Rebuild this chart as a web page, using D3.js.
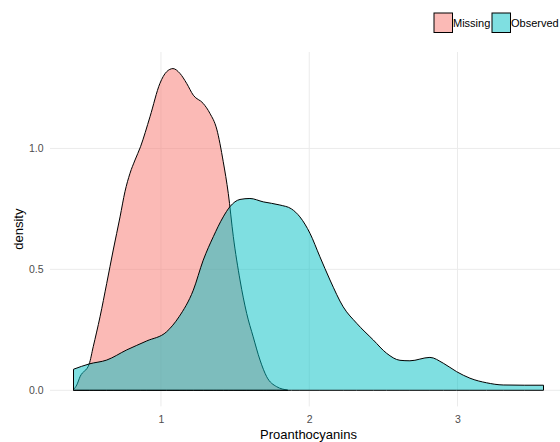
<!DOCTYPE html>
<html>
<head>
<meta charset="utf-8">
<script src="https://cdn.jsdelivr.net/npm/d3@7"></script>
<style>
  body { margin: 0; background: #fff; }
  text { font-family: "Liberation Sans", Arial, sans-serif; }
</style>
</head>
<body>
<script>
// size of the picture
const w = 560;
const h = 442;

// groups
const groups = ["Missing", "Observed"];
const groupColors = ["#F8766D", "#00BFC4"];

// density curve of the Missing group
const missingX = [0.41, 0.432, 0.454, 0.516, 0.543, 0.589, 0.634, 0.678, 0.724, 0.757, 0.791, 0.825, 0.862, 0.926, 0.993, 1.038, 1.081, 1.128, 1.173, 1.218, 1.285, 1.330, 1.376, 1.420, 1.454, 1.488, 1.533, 1.578, 1.622, 1.668, 1.713, 1.780, 1.855];
const missingY = [0.003, 0.022, 0.056, 0.109, 0.180, 0.304, 0.442, 0.580, 0.717, 0.821, 0.897, 0.952, 1.007, 1.131, 1.269, 1.317, 1.330, 1.310, 1.269, 1.220, 1.186, 1.145, 1.080, 0.945, 0.814, 0.635, 0.456, 0.318, 0.221, 0.125, 0.056, 0.015, 0.001];

// density curve of the Observed group
const observedX = [0.41, 0.516, 0.634, 0.769, 0.904, 1.038, 1.122, 1.218, 1.285, 1.353, 1.420, 1.465, 1.533, 1.600, 1.690, 1.802, 1.880, 1.937, 2.005, 2.072, 2.140, 2.229, 2.320, 2.432, 2.522, 2.612, 2.679, 2.814, 2.904, 2.994, 3.084, 3.196, 3.308, 3.45, 3.58];
const observedY = [0.087, 0.109, 0.125, 0.167, 0.204, 0.242, 0.304, 0.414, 0.538, 0.635, 0.717, 0.759, 0.789, 0.793, 0.779, 0.766, 0.750, 0.717, 0.649, 0.552, 0.456, 0.345, 0.277, 0.208, 0.153, 0.124, 0.122, 0.136, 0.112, 0.077, 0.050, 0.031, 0.022, 0.021, 0.021];

// ticks
const xTicks = [1, 2, 3];
const yTicks = [0, 0.5, 1.0];

// panel box
const panel = {left: 50, right: 567, top: 52, bottom: 406.4};

const x = d3.scaleLinear()
  .domain([0.2515, 3.7385])
  .range([panel.left, panel.right]);

const y = d3.scaleLinear()
  .domain([-0.0666, 1.3986])
  .range([panel.bottom, panel.top]);

const svg = d3.select("body")
  .append("svg")
  .attr("width", w)
  .attr("height", h);

//gridlines
svg.append("g")
  .selectAll("line")
  .data(xTicks)
  .enter()
  .append("line")
  .attr("x1", d => x(d)).attr("x2", d => x(d))
  .attr("y1", panel.top).attr("y2", panel.bottom)
  .attr("stroke", "#ebebeb").attr("stroke-width", 1);

svg.append("g")
  .selectAll("line")
  .data(yTicks)
  .enter()
  .append("line")
  .attr("x1", panel.left).attr("x2", panel.right)
  .attr("y1", d => y(d)).attr("y2", d => y(d))
  .attr("stroke", "#ebebeb").attr("stroke-width", 1);

// density areas, Missing first so Observed lies on top
const series = [
  d3.zip(missingX, missingY),
  d3.zip(observedX, observedY)
];

const area = d3.area()
  .x(d => x(d[0]))
  .y0(y(0))
  .y1(d => y(d[1]))
  .curve(d3.curveMonotoneX);

svg.append("g")
  .selectAll("path")
  .data(series)
  .enter()
  .append("path")
  .attr("d", area)
  .attr("fill", (d, i) => groupColors[i])
  .attr("fill-opacity", 0.5)
  .attr("stroke", "#000")
  .attr("stroke-width", 1)
  .attr("stroke-linejoin", "round");

// axes (labels only)
const xAxis = svg.append("g")
  .attr("transform", `translate(0,${panel.bottom})`)
  .call(d3.axisBottom(x).tickValues(xTicks).tickFormat(d3.format("d")).tickSize(0).tickPadding(9));

const yAxis = svg.append("g")
  .attr("transform", `translate(${panel.left},0)`)
  .call(d3.axisLeft(y).tickValues(yTicks).tickFormat(d3.format(".1f")).tickSize(0).tickPadding(6.5));

[xAxis, yAxis].forEach(g => {
  g.select(".domain").remove();
  g.selectAll("text")
    .attr("fill", "#4d4d4d")
    .style("font-family", '"Liberation Sans", Arial, sans-serif')
    .style("font-size", "10.5px");
});

// axis titles
svg.append("text")
  .attr("x", (panel.left + panel.right) / 2)
  .attr("y", 438.5)
  .attr("text-anchor", "middle")
  .style("font-size", "13px")
  .attr("fill", "#000")
  .text("Proanthocyanins");

svg.append("text")
  .attr("transform", `translate(23,${(panel.top + panel.bottom) / 2}) rotate(-90)`)
  .attr("text-anchor", "middle")
  .style("font-size", "13px")
  .attr("fill", "#000")
  .text("density");

// legend
const legendX = [434, 492];
const legend = svg.append("g")
  .selectAll("g")
  .data(groups)
  .enter()
  .append("g")
  .attr("transform", (d, i) => `translate(${legendX[i]},13)`);

legend.append("rect")
  .attr("width", 18.5)
  .attr("height", 19.5)
  .attr("fill", (d, i) => groupColors[i])
  .attr("fill-opacity", 0.5)
  .attr("stroke", "#000")
  .attr("stroke-width", 1);

legend.append("text")
  .attr("x", 19)
  .attr("y", 10)
  .attr("dy", "0.35em")
  .style("font-size", "11px")
  .attr("fill", "#000")
  .text(d => d);
</script>
</body>
</html>
